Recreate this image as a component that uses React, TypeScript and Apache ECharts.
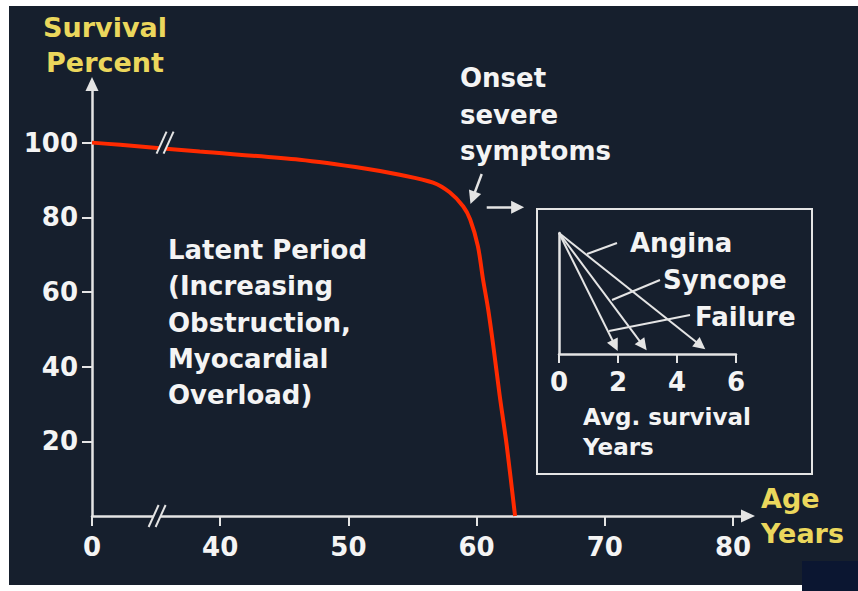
import React, { useEffect, useRef } from "react";
import * as echarts from "echarts";

// ---- data ----
const ageTicks = [30, 40, 50, 60, 70, 80];
const ageTickLabels = ["0", "40", "50", "60", "70", "80"];
const survivalTicks = [20, 40, 60, 80, 100];
const curveAge = [30, 32.2, 38.4, 46.2, 51.4, 54, 56.6, 57.9, 58.96, 59.5, 60.1, 60.5, 60.9, 61.3, 61.8, 62.35, 63];
const curveSurvival = [100, 99.4, 97.6, 95.4, 93.0, 91.4, 89.3, 86.7, 82.9, 79.4, 72.3, 63.4, 55.4, 45.6, 32.3, 18.9, 0];

const symptoms = ["Angina", "Syncope", "Failure"];
const avgSurvivalYears = [4.8, 2.85, 1.9];
const insetTicks = [0, 2, 4, 6];

const BG = "#161f2d";
const AXIS = "#e4e4e4";
const YELLOW = "#ebd75c";
const WHITE = "#f4f4f4";
const FONT = '"DejaVu Sans", sans-serif';

export default function App() {
  const ref = useRef<HTMLDivElement>(null);
  useEffect(() => {
    const chart = echarts.init(ref.current!, null, { renderer: "svg", width: 858, height: 591 });
    const txt = (id: string, x: number, y: number, text: string, size: number, fill: string, lh: number, va = "top") => ({
      type: "text",
      id,
      x,
      y,
      z: 15,
      style: {
        text,
        fill,
        fontFamily: FONT,
        fontSize: size,
        fontWeight: "bold",
        lineHeight: lh,
        textAlign: "left",
        textVerticalAlign: va,
      },
    });
    const baseGraphics: any[] = [
      { type: "rect", id: "bg", z: -10, shape: { x: 9, y: 6, width: 849, height: 579 }, style: { fill: BG } },
      { type: "rect", id: "corner", z: -9, shape: { x: 802, y: 561, width: 56, height: 30 }, style: { fill: "#0b1631" } },
      { type: "rect", id: "inset", z: 5, shape: { x: 537, y: 209, width: 275, height: 265 }, style: { fill: "none", stroke: AXIS, lineWidth: 2 } },
      txt("latent", 168, 232, "Latent Period\n(Increasing\nObstruction,\nMyocardial\nOverload)", 26, WHITE, 36.3),
      txt("onset", 460, 60, "Onset\nsevere\nsymptoms", 26, WHITE, 36.5),
      txt("l0", 630, 243, symptoms[0], 26, WHITE, 30, "middle"),
      txt("l1", 663, 280, symptoms[1], 26, WHITE, 30, "middle"),
      txt("l2", 695, 317, symptoms[2], 26, WHITE, 30, "middle"),
      txt("avg", 583, 402, "Avg. survival\nYears", 23, WHITE, 30),
      { type: "line", id: "ld0", z: 5, shape: { x1: 587, y1: 254, x2: 617, y2: 243 }, style: { stroke: AXIS, lineWidth: 2 } },
      { type: "line", id: "ld1", z: 5, shape: { x1: 612, y1: 300, x2: 660, y2: 280 }, style: { stroke: AXIS, lineWidth: 2 } },
      { type: "line", id: "ld2", z: 5, shape: { x1: 609, y1: 331, x2: 690, y2: 315 }, style: { stroke: AXIS, lineWidth: 2 } },
    ];

    const labelStyle = { color: WHITE, fontFamily: FONT, fontSize: 26, fontWeight: "bold" as const };

    const option: any = {
      animation: false,
      backgroundColor: "#ffffff",
      graphic: baseGraphics,
      grid: [
        { left: 92, right: 110, top: 84, bottom: 75 },
        { left: 559, width: 177, top: 233, height: 121 },
      ],
      xAxis: [
        {
          type: "value",
          gridIndex: 0,
          min: 30,
          max: 81.17,
          axisLine: { show: true, symbol: ["none", "triangle"], symbolSize: [13, 14], lineStyle: { color: AXIS, width: 2.5 } },
          axisTick: { show: true, customValues: ageTicks, length: 10, inside: false, lineStyle: { color: AXIS, width: 2 } },
          axisLabel: {
            ...labelStyle,
            customValues: ageTicks,
            margin: 18,
            formatter: (v: number) => {
              const i = ageTicks.indexOf(Math.round(v));
              return i >= 0 ? ageTickLabels[i] : "";
            },
          },
          splitLine: { show: false },
          name: "Age\nYears",
          nameLocation: "end",
          nameGap: 13,
          nameTextStyle: { color: YELLOW, fontFamily: FONT, fontSize: 27, fontWeight: "bold", lineHeight: 35, align: "left", verticalAlign: "middle" },
        },
        {
          type: "value",
          gridIndex: 1,
          min: 0,
          max: 6,
          axisLine: { show: true, lineStyle: { color: AXIS, width: 2.5 } },
          axisTick: { show: true, customValues: insetTicks, length: 9, lineStyle: { color: AXIS, width: 2 } },
          axisLabel: { ...labelStyle, customValues: insetTicks, margin: 15 },
          splitLine: { show: false },
        },
      ],
      yAxis: [
        {
          type: "value",
          gridIndex: 0,
          min: 0,
          max: 115.7,
          axisLine: { show: true, symbol: ["none", "triangle"], symbolSize: [13, 14], lineStyle: { color: AXIS, width: 2.5 } },
          axisTick: { show: true, customValues: survivalTicks, length: 10, lineStyle: { color: AXIS, width: 2 } },
          axisLabel: { ...labelStyle, customValues: survivalTicks, margin: 14 },
          splitLine: { show: false },
          name: "Survival\nPercent",
          nameLocation: "end",
          nameGap: 4,
          nameTextStyle: { color: YELLOW, fontFamily: FONT, fontSize: 27, fontWeight: "bold", lineHeight: 35, align: "center", padding: [0, 0, 0, 26] },
        },
        {
          type: "value",
          gridIndex: 1,
          min: 0,
          max: 1,
          axisLine: { show: true, lineStyle: { color: AXIS, width: 2.5 } },
          axisTick: { show: false },
          axisLabel: { show: false },
          splitLine: { show: false },
        },
      ],
      series: [
        {
          type: "line",
          xAxisIndex: 0,
          yAxisIndex: 0,
          data: curveAge.map((a, i) => [a, curveSurvival[i]]),
          smooth: 0.3,
          showSymbol: false,
          symbol: "none",
          lineStyle: { color: "#ff2a00", width: 4 },
          z: 3,
        },
        {
          type: "lines",
          coordinateSystem: "cartesian2d",
          xAxisIndex: 0,
          yAxisIndex: 0,
          symbol: ["none", "triangle"],
          symbolSize: 13,
          lineStyle: { color: AXIS, width: 2.5, opacity: 1 },
          data: [
            { coords: [[60.4, 91.6], [59.7, 85.2]] },
            { coords: [[60.79, 82.7], [63.2, 82.7]] },
          ],
          z: 4,
        },
        {
          type: "lines",
          coordinateSystem: "cartesian2d",
          xAxisIndex: 1,
          yAxisIndex: 1,
          symbol: ["none", "triangle"],
          symbolSize: 12,
          lineStyle: { color: AXIS, width: 2, opacity: 1 },
          data: symptoms.map((s, i) => ({ name: s, coords: [[0, 1], [avgSurvivalYears[i], 0.07]] })),
          z: 4,
        },
      ],
    };
    chart.setOption(option);

    const brk = (pt: number[], id: string) => {
      const p = chart.convertToPixel({ gridIndex: 0 } as any, pt) as number[];
      return {
        type: "group",
        id,
        x: p[0],
        y: p[1],
        z: 20,
        children: [
          { type: "polygon", z: 20, shape: { points: [[-8, 11], [2, -11], [9, -11], [-1, 11]] }, style: { fill: BG } },
          { type: "line", z: 21, shape: { x1: -8, y1: 11, x2: 2, y2: -11 }, style: { stroke: AXIS, lineWidth: 2 } },
          { type: "line", z: 21, shape: { x1: -1, y1: 11, x2: 9, y2: -11 }, style: { stroke: AXIS, lineWidth: 2 } },
        ],
      };
    };
    chart.setOption({ graphic: [...baseGraphics, brk([35.04, 0], "b1"), brk([35.66, 100], "b2")] });

    return () => chart.dispose();
  }, []);
  return <div ref={ref} style={{ position: "absolute", left: 0, top: 0, width: 858, height: 591 }} />;
}
